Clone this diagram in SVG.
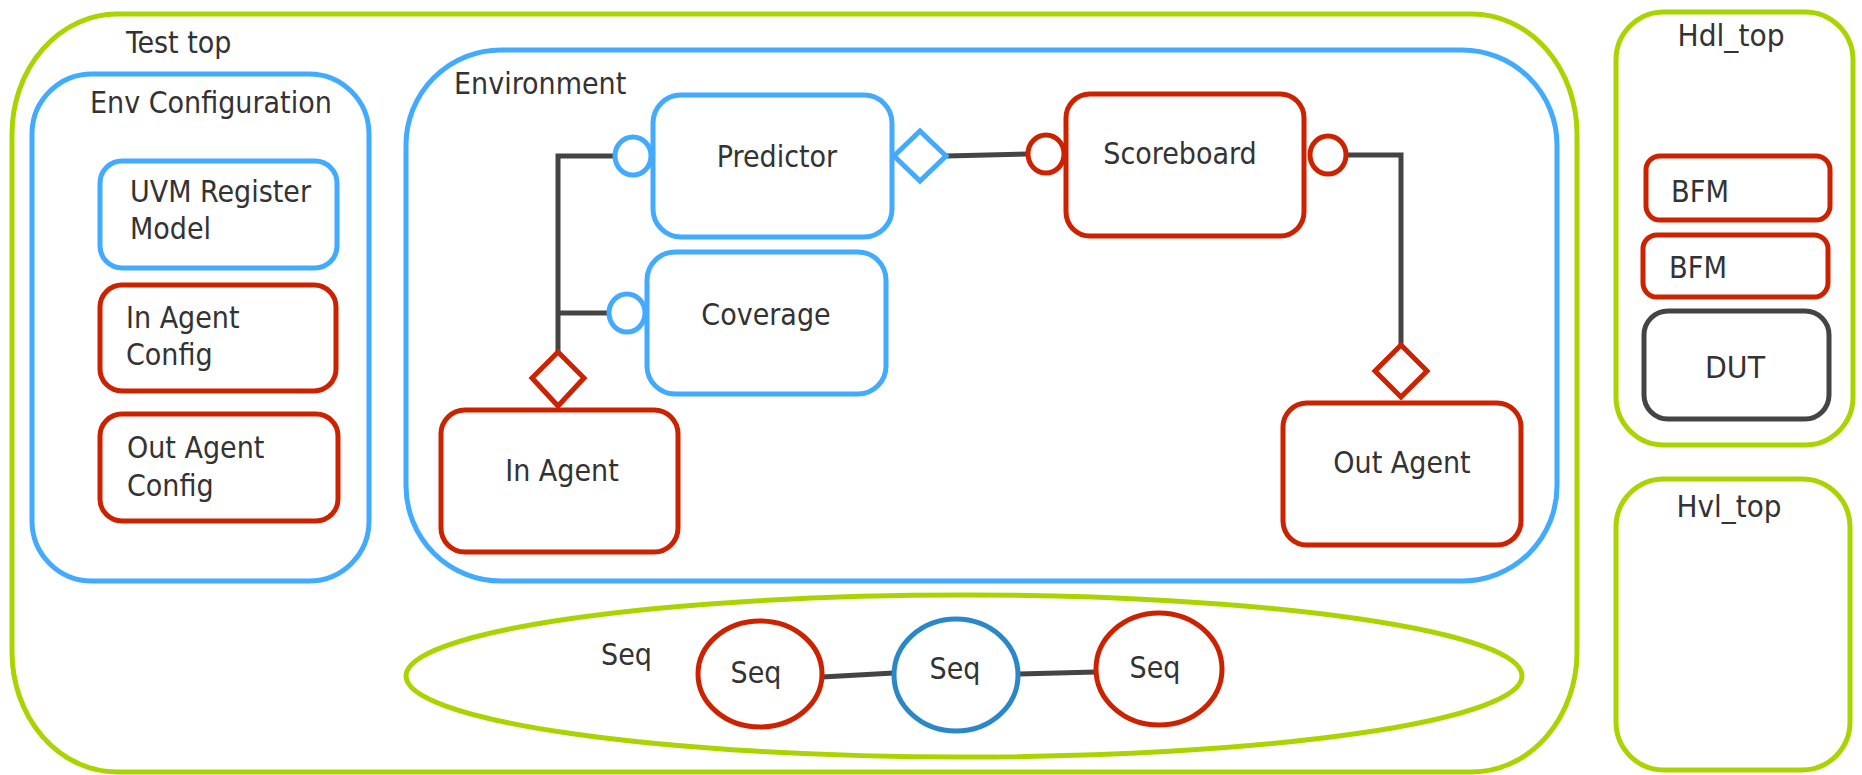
<svg xmlns="http://www.w3.org/2000/svg" width="1862" height="775" viewBox="0 0 1862 775">
<style>
.g{fill:none;stroke:#AAD400;stroke-width:5}
.b{fill:#fff;stroke:#42AAFF;stroke-width:5}
.r{fill:#fff;stroke:#CC2200;stroke-width:5}
.d{fill:#fff;stroke:#444;stroke-width:5}
.db{fill:#fff;stroke:#2B88C8;stroke-width:5}
.ln{fill:none;stroke:#444;stroke-width:5}
.t{font-family:"DejaVu Sans Condensed","DejaVu Sans",sans-serif;font-stretch:condensed;font-size:30px;fill:#333}
.c{text-anchor:middle}
.w{font-family:"DejaVu Sans",Verdana,sans-serif;font-size:31px;fill:#333}
</style>
<rect width="1862" height="775" fill="#fff"/>
<g id="test-top"><rect class="g" x="12" y="14" width="1565" height="758" rx="105" ry="120"/><text class="t" x="126" y="53">Test top</text></g>
<g id="env-config"><rect class="b" x="32" y="74" width="337" height="507" rx="60" ry="60" fill="none"/><text class="t" x="90" y="113">Env Configuration</text></g>
<g id="uvm-reg"><rect class="b" x="100" y="161" width="237" height="107" rx="22"/><text class="t" x="130" y="202">UVM Register</text><text class="t" x="130" y="239">Model</text></g>
<g id="in-agent-config"><rect class="r" x="100" y="285" width="236" height="106" rx="22"/><text class="t" x="126" y="328">In Agent</text><text class="t" x="126" y="365">Config</text></g>
<g id="out-agent-config"><rect class="r" x="100" y="414" width="238" height="107" rx="22"/><text class="t" x="127" y="458">Out Agent</text><text class="t" x="127" y="496">Config</text></g>
<g id="environment"><rect class="b" x="406" y="50" width="1151" height="531" rx="95" ry="95"/><text class="t" x="454" y="94">Environment</text></g>
<g id="predictor"><rect class="b" x="653" y="95" width="239" height="142" rx="28"/><text class="t c" x="777" y="167">Predictor</text></g>
<g id="coverage"><rect class="b" x="647" y="252" width="239" height="142" rx="28"/><text class="t c" x="766" y="325">Coverage</text></g>
<g id="scoreboard"><rect class="r" x="1066" y="94" width="238" height="142" rx="24"/><text class="t c" x="1180" y="164">Scoreboard</text></g>
<g id="in-agent"><rect class="r" x="441" y="410" width="237" height="142" rx="24"/><text class="t c" x="562" y="481">In Agent</text></g>
<g id="out-agent"><rect class="r" x="1283" y="403" width="238" height="142" rx="24"/><text class="t c" x="1402" y="473">Out Agent</text></g>
<g id="connectors">
<path class="ln" d="M614 156 H558 V352 M558 313 H608"/>
<path class="ln" d="M946 156 L1028 154"/>
<path class="ln" d="M1348 155 H1401 V345"/>
<path class="ln" d="M822 677 L894 673 M1019 674 L1096 672"/>
<ellipse class="b" cx="633" cy="156" rx="18" ry="19"/>
<ellipse class="b" cx="627" cy="313" rx="18" ry="19"/>
<polygon class="b" points="920,131 946,156 920,181 894,156"/>
<ellipse class="r" cx="1046" cy="154" rx="18" ry="19"/>
<ellipse class="r" cx="1328" cy="155" rx="18" ry="19"/>
<polygon class="r" points="558,352 584,378 558,406 532,378"/>
<polygon class="r" points="1401,345 1427,371 1401,397 1375,371"/>
</g>
<g id="seq-group"><ellipse class="g" cx="964" cy="676" rx="558" ry="81"/><text class="t" x="601" y="665">Seq</text></g>
<g id="seq1"><ellipse class="r" cx="760" cy="674" rx="62" ry="53"/><text class="t c" x="756" y="683">Seq</text></g>
<g id="seq2"><ellipse class="db" cx="956" cy="675" rx="62" ry="56"/><text class="t c" x="955" y="679">Seq</text></g>
<g id="seq3"><ellipse class="r" cx="1159" cy="669" rx="63" ry="56"/><text class="t c" x="1155" y="678">Seq</text></g>
<g id="hdl-top"><rect class="g" x="1616" y="12" width="237" height="433" rx="48" ry="48"/><text class="w c" x="1731" y="46" textLength="107" lengthAdjust="spacingAndGlyphs">Hdl_top</text></g>
<g id="bfm1"><rect class="r" x="1646" y="156" width="184" height="64" rx="14"/><text class="w" x="1671" y="202" textLength="58" lengthAdjust="spacingAndGlyphs">BFM</text></g>
<g id="bfm2"><rect class="r" x="1643" y="235" width="185" height="62" rx="14"/><text class="w" x="1669" y="278" textLength="58" lengthAdjust="spacingAndGlyphs">BFM</text></g>
<g id="dut"><rect class="d" x="1644" y="311" width="185" height="108" rx="24"/><text class="w c" x="1735" y="378" textLength="60" lengthAdjust="spacingAndGlyphs">DUT</text></g>
<g id="hvl-top"><rect class="g" x="1616" y="479" width="234" height="291" rx="48" ry="48"/><text class="w c" x="1729" y="517" textLength="105" lengthAdjust="spacingAndGlyphs">Hvl_top</text></g>
</svg>
